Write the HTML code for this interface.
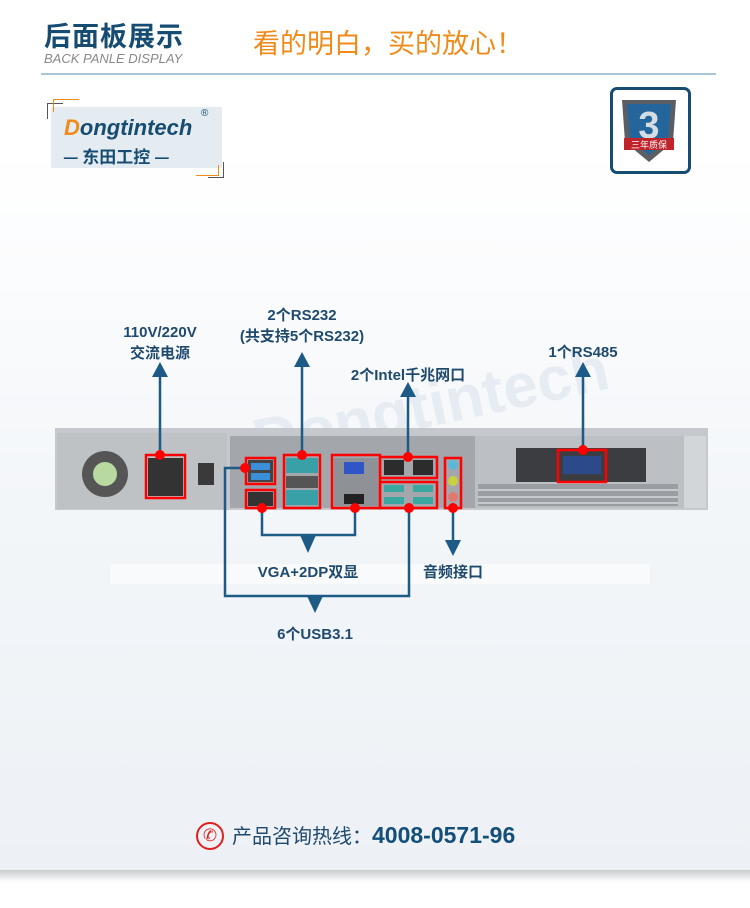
<!DOCTYPE html>
<html><head><meta charset="utf-8"><style>
html,body{margin:0;padding:0}
body{width:750px;height:908px;position:relative;overflow:hidden;font-family:"Liberation Sans","Noto Sans CJK SC",sans-serif;background:linear-gradient(#ffffff 0px,#ffffff 150px,#f3f6f9 500px,#edf1f5 870px,#ffffff 885px);}
.t{position:absolute;white-space:nowrap}
</style></head><body>
<div class="t" style="left:44px;top:15px;font-size:27px;font-weight:bold;color:#164c72;font-family:'Noto Sans CJK SC',sans-serif;letter-spacing:1px">后面板展示</div>
<div class="t" style="left:44px;top:51px;font-size:13px;font-style:italic;color:#888">BACK PANLE DISPLAY</div>
<div class="t" style="left:253px;top:22px;font-size:27px;color:#f08a18;font-family:'Noto Sans CJK SC',sans-serif">看的明白，买的放心！</div>
<div style="position:absolute;left:41px;top:73px;width:675px;height:2px;background:#a9c5d8"></div>

<!-- logo -->
<div style="position:absolute;left:51px;top:107px;width:171px;height:61px;background:#e4ecf1"></div>
<div style="position:absolute;left:47px;top:103px;width:15px;height:15px;border-left:1px solid #555;border-top:1px solid #555"></div>
<div style="position:absolute;left:53px;top:99px;width:25px;height:12px;border-left:1px solid #f08a18;border-top:1px solid #f08a18"></div>
<div style="position:absolute;left:208px;top:162px;width:15px;height:15px;border-right:1px solid #555;border-bottom:1px solid #555"></div>
<div style="position:absolute;left:196px;top:165px;width:22px;height:10px;border-right:1px solid #f08a18;border-bottom:1px solid #f08a18"></div>
<div class="t" style="left:64px;top:115px;font-size:22px;font-style:italic;font-weight:bold;color:#164c72"><span style="color:#f08a18">D</span>ongtintech</div>
<div class="t" style="left:201px;top:108px;font-size:10px;color:#164c72">®</div>
<div class="t" style="left:63px;top:143px;font-size:17px;font-weight:bold;color:#164c72;font-family:'Noto Sans CJK SC',sans-serif">— 东田工控 —</div>

<!-- warranty badge -->
<div style="position:absolute;left:610px;top:87px;width:75px;height:81px;border:3px solid #164c72;border-radius:7px;background:#fff"></div>
<svg style="position:absolute;left:616px;top:94px" width="66" height="72">
<path d="M6 6 L60 6 L57 48 L33 68 L9 48 Z" fill="#5a5f66"/>
<path d="M11 10 L55 10 L52 45 L33 61 L14 45 Z" fill="#24669b"/>
<text x="33" y="44" font-size="38" font-weight="bold" fill="#d5dde4" text-anchor="middle" font-family="Liberation Sans">3</text>
<rect x="8" y="44" width="50" height="12" fill="#c0232a"/>
<text x="33" y="54" font-size="9" fill="#fff" text-anchor="middle" font-family="Noto Sans CJK SC">三年质保</text>
</svg>

<!-- watermark -->
<div class="t" style="left:250px;top:370px;font-size:62px;font-weight:bold;color:#e3eaf0;transform:rotate(-12deg);opacity:.8">Dongtintech</div>
<div style="position:absolute;left:110px;top:564px;width:540px;height:20px;background:rgba(255,255,255,0.5)"></div>

<svg style="position:absolute;left:0;top:0" width="750" height="908">
<!-- chassis -->
<rect x="55" y="428" width="653" height="82" fill="#c5c8cc"/>
<rect x="57" y="433" width="170" height="76" fill="#bfc2c5"/>
<rect x="230" y="436" width="245" height="72" fill="#a3a6aa"/>
<rect x="475" y="436" width="210" height="72" fill="#bcc0c4"/>
<rect x="684" y="436" width="22" height="72" fill="#d3d6d9"/>
<rect x="516" y="448" width="130" height="34" fill="#3b3d40"/>
<rect x="478" y="484" width="200" height="22" fill="#9a9da1"/>
<g stroke="#c5c8cc" stroke-width="2">
<line x1="478" y1="490" x2="678" y2="490"/><line x1="478" y1="497" x2="678" y2="497"/><line x1="478" y1="503" x2="678" y2="503"/>
</g>
<circle cx="105" cy="474" r="23" fill="#555"/>
<circle cx="105" cy="474" r="12" fill="#b8d9a0"/>
<rect x="148" y="458" width="35" height="38" fill="#333"/>
<rect x="198" y="463" width="16" height="22" fill="#3a3a3a"/>
<rect x="248" y="460" width="25" height="22" fill="#444"/><rect x="251" y="463" width="19" height="7" fill="#3a8fd8"/><rect x="251" y="473" width="19" height="7" fill="#3a8fd8"/>
<rect x="248" y="492" width="25" height="14" fill="#333"/>
<rect x="286" y="458" width="32" height="15" fill="#3aa0a8"/><rect x="286" y="490" width="32" height="15" fill="#3aa0a8"/><rect x="286" y="476" width="32" height="12" fill="#555"/>
<rect x="334" y="458" width="44" height="48" fill="#8e9196"/><rect x="344" y="462" width="20" height="12" fill="#2f55c8"/><rect x="344" y="494" width="20" height="10" fill="#222"/>
<rect x="384" y="460" width="20" height="15" fill="#2c2c2c"/><rect x="413" y="460" width="20" height="15" fill="#2c2c2c"/>
<rect x="384" y="485" width="20" height="7" fill="#3aa7a0"/><rect x="413" y="485" width="20" height="7" fill="#3aa7a0"/>
<rect x="384" y="497" width="20" height="7" fill="#3aa7a0"/><rect x="413" y="497" width="20" height="7" fill="#3aa7a0"/>
<circle cx="453" cy="465" r="5" fill="#5bb8d8"/><circle cx="453" cy="481" r="5" fill="#c8d040"/><circle cx="453" cy="497" r="5" fill="#e07a70"/>
<rect x="563" y="456" width="38" height="18" fill="#2c4a8a"/>

<g fill="none" stroke="#f00" stroke-width="2.5">
<rect x="146" y="455" width="39" height="43"/>
<rect x="246" y="458" width="29" height="26"/>
<rect x="246" y="490" width="29" height="18"/>
<rect x="284" y="455" width="36" height="53"/>
<rect x="332" y="455" width="48" height="53"/>
<rect x="380" y="457" width="57" height="21"/>
<rect x="380" y="482" width="57" height="26"/>
<rect x="445" y="458" width="16" height="50"/>
<rect x="558" y="450" width="48" height="32"/>
</g>

<g stroke="#1d5a85" stroke-width="2.5" fill="none">
<line x1="160" y1="375" x2="160" y2="455"/>
<line x1="302" y1="365" x2="302" y2="455"/>
<line x1="408" y1="395" x2="408" y2="457"/>
<line x1="583" y1="375" x2="583" y2="450"/>
<polyline points="262,508 262,535 355,535 355,508"/>
<line x1="453" y1="508" x2="453" y2="545"/>
<polyline points="245,468 225,468 225,596 409,596 409,508"/>
</g>
<g fill="#1d5a85">
<polygon points="160,362 152,377 168,377"/>
<polygon points="302,352 294,367 310,367"/>
<polygon points="408,382 400,397 416,397"/>
<polygon points="583,362 575,377 591,377"/>
<polygon points="300,535 316,535 308,553"/>
<polygon points="445,540 461,540 453,556"/>
<polygon points="307,596 323,596 315,613"/>
</g>
<g fill="#f00">
<circle cx="160" cy="455" r="5"/><circle cx="302" cy="455" r="5"/><circle cx="408" cy="457" r="5"/><circle cx="583" cy="450" r="5"/>
<circle cx="262" cy="508" r="5"/><circle cx="355" cy="508" r="5"/><circle cx="409" cy="508" r="5"/><circle cx="453" cy="508" r="5"/><circle cx="245" cy="468" r="5"/>
</g>
</svg>

<div style="font-family:'Liberation Sans','Noto Sans CJK SC',sans-serif;font-weight:bold;color:#1f4a6e;font-size:15px">
<div class="t" style="left:110px;top:322px;width:100px;text-align:center;line-height:21px">110V/220V<br>交流电源</div>
<div class="t" style="left:222px;top:305px;width:160px;text-align:center;line-height:21px">2个RS232<br>(共支持5个RS232)</div>
<div class="t" style="left:338px;top:364px;width:140px;text-align:center">2个Intel千兆网口</div>
<div class="t" style="left:533px;top:341px;width:100px;text-align:center">1个RS485</div>
<div class="t" style="left:248px;top:561px;width:120px;text-align:center">VGA+2DP双显</div>
<div class="t" style="left:413px;top:561px;width:80px;text-align:center">音频接口</div>
<div class="t" style="left:255px;top:623px;width:120px;text-align:center">6个USB3.1</div>
</div>

<div style="position:absolute;left:196px;top:822px;width:24px;height:24px;border:2px solid #e02020;border-radius:50%;color:#e02020;font-size:17px;line-height:24px;text-align:center">✆</div>
<div class="t" style="left:232px;top:822px;font-size:20px;color:#1f4a6e;font-family:'Noto Sans CJK SC',sans-serif;line-height:26px">产品咨询热线：<span style="font-family:'Liberation Sans',sans-serif;font-weight:bold;font-size:23px;color:#134f78">4008-0571-96</span></div>
<div style="position:absolute;left:0;top:870px;width:750px;height:12px;background:linear-gradient(#c9cbcd,#ffffff)"></div>
</body></html>
